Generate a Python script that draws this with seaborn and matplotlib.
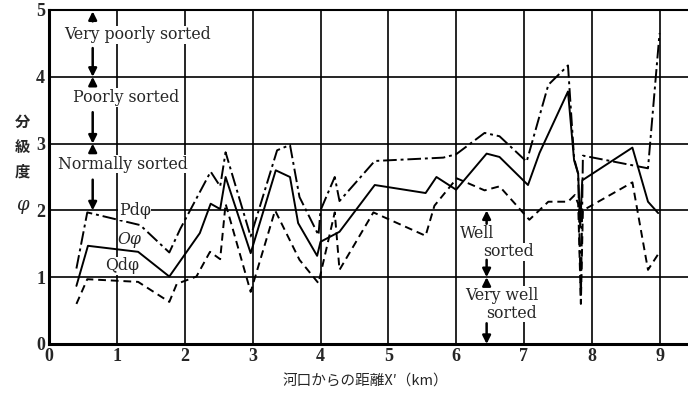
import matplotlib
matplotlib.use("Agg")
import matplotlib.pyplot as plt
import seaborn as sns
import pandas as pd

# ---- data ----
pd_x = [0.40, 0.56, 1.34, 1.77, 1.93, 2.38, 2.52, 2.60, 2.97, 3.36, 3.55, 3.69, 3.97, 4.00,
        4.21, 4.28, 4.80, 5.81, 6.00, 6.42, 6.64, 7.04, 7.36, 7.65, 7.74, 7.80, 7.84, 7.87,
        8.83, 9.00]
pd_y = [1.13, 1.97, 1.78, 1.37, 1.72, 2.58, 2.36, 2.87, 1.61, 2.90, 2.98, 2.20, 1.63, 2.00,
        2.50, 2.14, 2.74, 2.79, 2.84, 3.16, 3.11, 2.73, 3.88, 4.17, 2.78, 2.55, 0.65, 2.82,
        2.63, 4.65]

o_x = [0.40, 0.57, 1.31, 1.77, 2.22, 2.38, 2.52, 2.60, 2.97, 3.34, 3.55, 3.67, 3.95, 4.00,
       4.28, 4.80, 5.55, 5.71, 6.00, 6.45, 6.64, 7.06, 7.23, 7.65, 7.74, 7.80, 7.83, 7.86,
       8.60, 8.83, 8.98]
o_y = [0.87, 1.47, 1.38, 1.01, 1.66, 2.10, 2.02, 2.50, 1.36, 2.60, 2.50, 1.81, 1.32, 1.53,
       1.68, 2.38, 2.26, 2.50, 2.31, 2.85, 2.80, 2.38, 2.86, 3.78, 2.75, 2.55, 1.75, 2.45,
       2.94, 2.13, 1.96]

qd_x = [0.40, 0.56, 1.31, 1.77, 1.88, 2.17, 2.37, 2.52, 2.60, 2.97, 3.33, 3.69, 3.97, 4.21,
        4.28, 4.78, 5.55, 5.68, 6.01, 6.42, 6.64, 7.08, 7.36, 7.65, 7.75, 7.80, 7.84, 7.87,
        8.60, 8.83, 8.99]
qd_y = [0.60, 0.97, 0.93, 0.63, 0.90, 1.01, 1.38, 1.27, 2.10, 0.78, 2.00, 1.26, 0.91, 1.97,
        1.11, 1.97, 1.62, 2.07, 2.48, 2.30, 2.36, 1.86, 2.13, 2.13, 2.23, 2.10, 0.60, 2.00,
        2.42, 1.11, 1.36]

series_names = ["Pd", "O", "Qd"]
x_ticks = [0, 1, 2, 3, 4, 5, 6, 7, 8, 9]
y_ticks = [0, 1, 2, 3, 4, 5]
x_label = "河口からの距離X′（km）"
y_label_chars = ["分", "級", "度"]

df = pd.concat([
    pd.DataFrame({"x": pd_x, "y": pd_y, "s": "Pd"}),
    pd.DataFrame({"x": o_x, "y": o_y, "s": "O"}),
    pd.DataFrame({"x": qd_x, "y": qd_y, "s": "Qd"}),
], ignore_index=True)

sns.set_style("white")
plt.rcParams["font.family"] = ["DejaVu Serif", "Noto Sans CJK JP"]

fig = plt.figure(figsize=(6.88, 3.93), dpi=100)
ax = fig.add_axes([49.3 / 688, 49 / 393, 1 - 49.3 / 688, 334 / 393])

sns.lineplot(data=df, x="x", y="y", hue="s", style="s", ax=ax,
             palette={"Pd": "black", "O": "black", "Qd": "black"},
             dashes={"Pd": (7, 2, 1.5, 2), "O": "", "Qd": (4, 2.5)},
             estimator=None, sort=False, linewidth=1.4, legend=False, zorder=4)

ax.set_xlim(0, 9.42)
ax.set_ylim(0, 5)
ax.set_xticks(x_ticks)
ax.set_yticks(y_ticks)
ax.set_xticklabels([str(v) for v in x_ticks], fontfamily="Liberation Serif",
                   fontweight="bold", fontsize=13)
ax.set_yticklabels([str(v) for v in y_ticks], fontfamily="Liberation Serif",
                   fontweight="bold", fontsize=13)
ax.tick_params(axis="both", length=0, pad=3)
ax.grid(True, color="black", linewidth=1.2)
ax.set_axisbelow(True)
for side in ["left", "bottom"]:
    ax.spines[side].set_linewidth(2.2)
    ax.spines[side].set_color("black")
ax.spines["top"].set_linewidth(1.5)
ax.spines["top"].set_color("black")
ax.spines["right"].set_visible(False)
ax.set_xlabel("")
ax.set_ylabel("")

# axis labels
fig.text(365 / 688, 1 - 382 / 393, x_label, ha="center", va="center",
         fontsize=10.5, family=["Noto Sans CJK JP", "DejaVu Serif"])
for i, ch in enumerate(y_label_chars):
    fig.text(22 / 688, 1 - (122 + 25 * i) / 393, ch, ha="center", va="center",
             fontsize=11, family=["Noto Sans CJK JP"], fontweight="bold")
fig.text(22 / 688, 1 - 205 / 393, "φ", ha="center", va="center", fontsize=13,
         family=["DejaVu Serif"], style="italic")

wb = dict(facecolor="white", edgecolor="none", pad=0.5)
tkw = dict(fontsize=11.3, ha="center", va="center", zorder=5, bbox=wb)

# series labels
ax.text(1.26, 2.0, "Pdφ", **tkw)
ax.text(1.18, 1.56, "Oφ", fontsize=11.3, ha="center", va="center", zorder=5, style="italic")
ax.text(1.08, 1.17, "Qdφ", **tkw)

# sorting class texts
ax.text(1.30, 4.63, "Very poorly sorted", **tkw)
ax.text(1.14, 3.69, "Poorly sorted", **tkw)
ax.text(1.08, 2.69, "Normally sorted", **tkw)
ax.text(6.05, 1.66, "Well", fontsize=11.3, ha="left", va="center", zorder=5, bbox=wb)
ax.text(6.77, 1.38, "sorted", **tkw)
ax.text(6.68, 0.73, "Very well", **tkw)
ax.text(6.81, 0.46, "sorted", **tkw)

akw = dict(arrowstyle="-|>", color="black", lw=1.8, mutation_scale=12,
           shrinkA=0, shrinkB=0)

def arrow(x, y0, y1):
    ax.annotate("", xy=(x, y1), xytext=(x, y0), arrowprops=akw, zorder=6)

xa = 0.64
arrow(xa, 4.83, 4.98)
arrow(xa, 4.43, 4.0)
arrow(xa, 3.87, 4.0)
arrow(xa, 3.47, 3.0)
arrow(xa, 2.87, 3.0)
arrow(xa, 2.46, 2.0)
xb = 6.45
arrow(xb, 1.80, 2.0)
arrow(xb, 1.26, 1.0)
arrow(xb, 0.88, 1.0)
arrow(xb, 0.31, 0.0)

fig.savefig("out.png", dpi=100)
